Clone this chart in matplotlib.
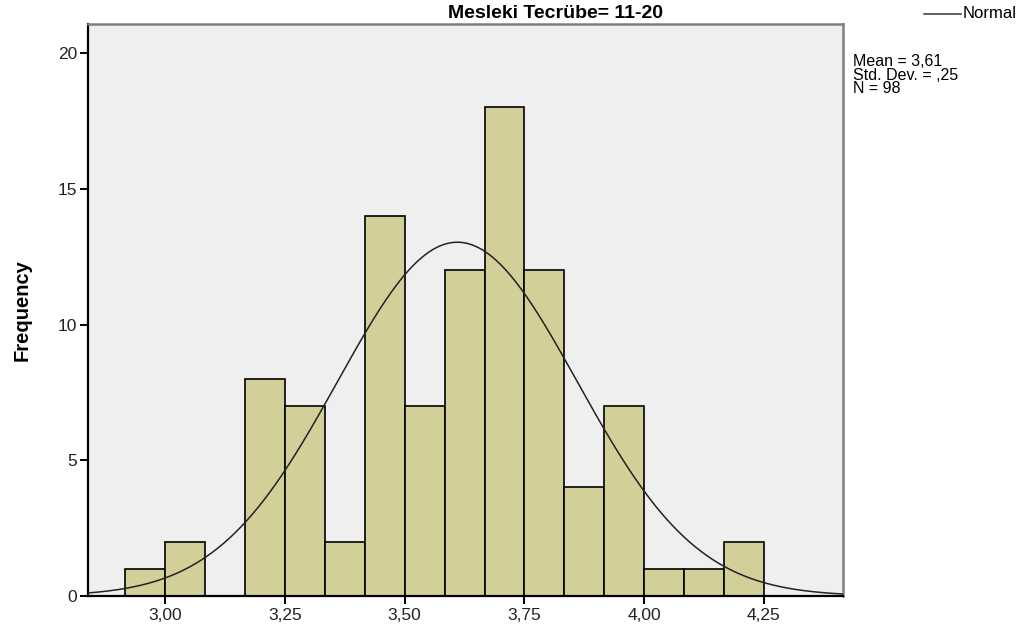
import numpy as np
import matplotlib
matplotlib.use('Agg')
import matplotlib.pyplot as plt
from matplotlib.lines import Line2D

### histogram data (bin width = 1/12)
bin_start = 35 / 12.0
bin_width = 1 / 12.0
counts = [1, 2, 0, 8, 7, 2, 14, 7, 12, 18, 12, 4, 7, 1, 1, 2]

### summary stats shown in the chart
mean_val = 3.61
std_val = 0.25
n_val = 98

xtick_vals = [3.00, 3.25, 3.50, 3.75, 4.00, 4.25]
xtick_labels = ['3,00', '3,25', '3,50', '3,75', '4,00', '4,25']
ytick_vals = [0, 5, 10, 15, 20]

title = 'Mesleki Tecrübe= 11-20'
stats_text = 'Mean = 3,61\nStd. Dev. = ,25\nN = 98'

plt.rcParams['font.family'] = ['Liberation Sans', 'DejaVu Sans']

W, H = 1033, 632
fig = plt.figure(figsize=(W / 100, H / 100), dpi=100)
ax = fig.add_axes([88 / W, 1 - 596 / H, (843 - 88) / W, (596 - 24) / H])
ax.set_facecolor('#efefef')

edges = bin_start + bin_width * np.arange(len(counts))
ax.bar(edges, counts, width=bin_width, align='edge',
       color='#d3cf98', edgecolor='black', linewidth=1.2, zorder=2)

### normal curve scaled to the histogram
xs = np.linspace(2.839, 4.415, 400)
ys = n_val * bin_width / (std_val * np.sqrt(2 * np.pi)) * np.exp(-0.5 * ((xs - mean_val) / std_val) ** 2)
ax.plot(xs, ys, color='#222222', linewidth=1.1, zorder=3)

ax.set_xlim(2.839, 4.415)
ax.set_ylim(0, 21.07)
ax.set_xticks(xtick_vals)
ax.set_xticklabels(xtick_labels)
ax.set_yticks(ytick_vals)
ax.tick_params(axis='both', direction='out', length=6, width=1.4,
               labelsize=12.5, colors='black', labelcolor='#222222')
ax.tick_params(axis='x', pad=3)
ax.tick_params(axis='y', pad=2)

for side in ['left', 'bottom']:
    ax.spines[side].set_color('black')
    ax.spines[side].set_linewidth(1.6)
for side in ['top', 'right']:
    ax.spines[side].set_color('#808080')
    ax.spines[side].set_linewidth(1.8)

ax.set_ylabel('Frequency', fontsize=14.5, fontweight='bold')
ax.yaxis.set_label_coords(-56 / (843 - 88), 0.5)

fig.text(555 / W, 1 - 13 / H, title, ha='center', va='center',
         fontsize=14, fontweight='bold')

### legend and stats box on the right
fig.add_artist(Line2D([924 / W, 961 / W], [1 - 14 / H, 1 - 14 / H],
                      color='#333333', linewidth=1.1))
fig.text(963 / W, 1 - 14 / H, 'Normal', ha='left', va='center', fontsize=12)
fig.text(853 / W, 1 - 54 / H, stats_text, ha='left', va='top',
         fontsize=11.5, linespacing=0.88)

fig.savefig('out.png', dpi=100)
